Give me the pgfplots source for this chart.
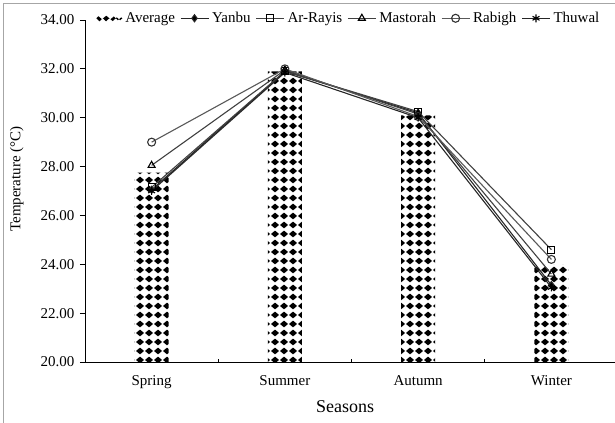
\documentclass[border=0pt]{standalone}
\usepackage{pgfplots}
\pgfplotsset{compat=1.18}
\usepackage{fontspec}
\setmainfont{Liberation Serif}
\usetikzlibrary{patterns}
\pgfdeclarepatternformonly{diamondgrid}{\pgfqpoint{0bp}{0bp}}{\pgfqpoint{8.5bp}{8.5bp}}{\pgfqpoint{8.5bp}{8.5bp}}{%
  \pgfpathmoveto{\pgfqpoint{4.25bp}{0.7bp}}%
  \pgfpathlineto{\pgfqpoint{8.5bp}{4.25bp}}%
  \pgfpathlineto{\pgfqpoint{4.25bp}{7.8bp}}%
  \pgfpathlineto{\pgfqpoint{0bp}{4.25bp}}%
  \pgfpathclose
  \pgfusepath{fill}%
}
\begin{document}
\fontsize{15bp}{17bp}\selectfont
\begin{tikzpicture}
\useasboundingbox (0,0) rectangle (615bp,423bp);
\draw[black!35, line width=0.8bp] (3bp,0) -- (3bp,420bp) -- (615bp,420bp);
\begin{axis}[
  at={(85bp,61bp)}, anchor=south west,
  scale only axis, width=533bp, height=342bp,
  xmin=-0.5, xmax=3.5, ymin=20, ymax=34,
  axis lines=left, axis line style={-, line width=0.8bp, black},
  xtick={0,1,2,3}, xticklabels={Spring,Summer,Autumn,Winter},
  major x tick style={draw=none},
  minor xtick={0.5,1.5,2.5},
  minor x tick style={black, line width=0.8bp, yshift=3bp},
  minor tick length=3bp,
  ytick={20,22,...,34},
  major y tick style={black, line width=0.8bp},
  major tick length=5bp,
  tick align=outside,
  /pgf/number format/fixed, /pgf/number format/fixed zerofill, /pgf/number format/precision=2,
  /pgf/number format/assume math mode=true,
  yticklabel style={font=\fontsize{15bp}{17bp}\selectfont, xshift=-0.5bp},
  xticklabel style={font=\fontsize{15bp}{17bp}\selectfont, yshift=-3bp},
  xlabel={Seasons}, ylabel={Temperature (\textdegree C)},
  xlabel style={font=\fontsize{18bp}{20bp}\selectfont, at={(axis description cs:0.488,-0.13)}, anchor=center},
  ylabel style={font=\fontsize{15bp}{17bp}\selectfont, at={(axis description cs:-0.128,0.535)}, anchor=center},
  legend columns=6,
  legend style={draw=none, fill=none, at={(axis description cs:0.495,1.005)}, anchor=center,
    font=\fontsize{15bp}{17bp}\selectfont,
    /tikz/every even column/.append style={column sep=3bp},
    /tikz/every odd column/.append style={column sep=1bp}},
  legend image code/.code={\draw[#1, mark repeat=2, mark phase=2] plot coordinates {(0bp,0bp) (14bp,0bp) (28bp,0bp)};},
  every axis plot/.append style={line width=1.1bp},
  clip=false,
]
\addplot[ybar, bar width=0.255, draw=none, fill=none, pattern=diamondgrid,
  legend image code/.code={\foreach \i in {0,1,2,3} {\fill ({\i*6.5bp+3bp},0bp) +(0,3bp) -- +(3.25bp,0) -- +(0,-3bp) -- +(-3.25bp,0) -- cycle;}}]
  coordinates {(0,27.75) (1,31.9) (2,30.1) (3,24.0)};
\addlegendentry{Average}
\addplot[black!85, mark=diamond*, mark size=3.5bp, mark options={fill=black, solid}]
  coordinates {(0,27.05) (1,31.9) (2,30.2) (3,23.15)};
\addlegendentry{Yanbu}
\addplot[black!75, mark=square, mark size=3.5bp, mark options={fill=white, solid, black}]
  coordinates {(0,27.15) (1,31.9) (2,30.25) (3,24.6)};
\addlegendentry{Ar-Rayis}
\addplot[black!75, mark=triangle, mark size=4bp, mark options={fill=white, solid, black}]
  coordinates {(0,28.05) (1,31.95) (2,30.15) (3,23.6)};
\addlegendentry{Mastorah}
\addplot[black!65, mark=o, mark size=4bp, mark options={fill=white, solid, black!80}]
  coordinates {(0,29.0) (1,32.0) (2,30.05) (3,24.2)};
\addlegendentry{Rabigh}
\addplot[black!85, mark=asterisk, mark size=4bp, mark options={solid, black}]
  coordinates {(0,27.0) (1,31.85) (2,30.0) (3,23.05)};
\addlegendentry{Thuwal}
\end{axis}
\end{tikzpicture}
\end{document}
